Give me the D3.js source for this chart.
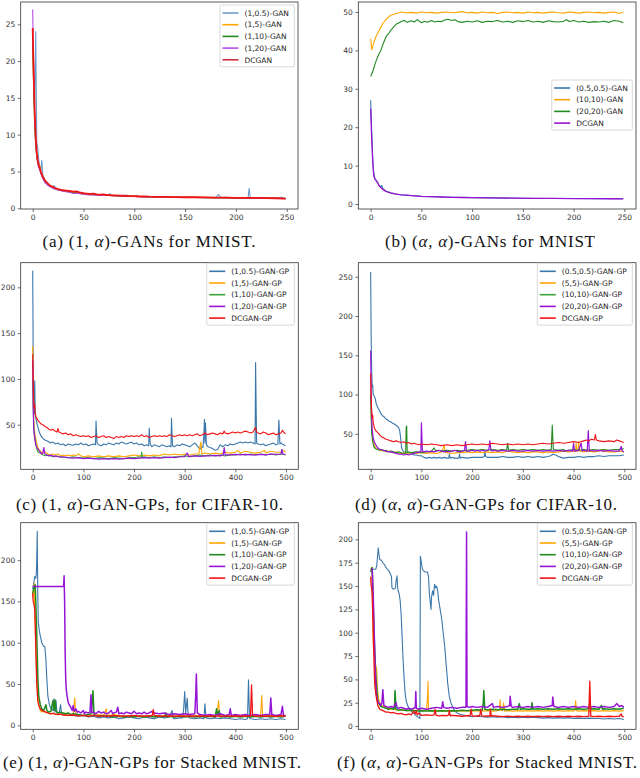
<!DOCTYPE html>
<html><head><meta charset="utf-8">
<script src="https://cdn.jsdelivr.net/npm/d3@7"></script>
<style>body{margin:0;background:#fff}svg{display:block}</style>
</head><body>
<svg id="chart" width="640" height="778"></svg>
<script>
// ---------------- DATA ----------------
const ticksX250 = [0, 50, 100, 150, 200, 250];
const ticksX500 = [0, 100, 200, 300, 400, 500];
const aTicksY = [0, 5, 10, 15, 20, 25];
const bTicksY = [0, 10, 20, 30, 40, 50];
const cTicksY = [50, 100, 150, 200];
const dTicksY = [50, 100, 150, 200, 250];
const eTicksY = [0, 50, 100, 150, 200];
const fTicksY = [0, 25, 50, 75, 100, 125, 150, 175, 200];

const aLabels = ["(1,0.5)-GAN", "(1,5)-GAN", "(1,10)-GAN", "(1,20)-GAN", "DCGAN"];
const bLabels = ["(0.5,0.5)-GAN", "(10,10)-GAN", "(20,20)-GAN", "DCGAN"];
const cLabels = ["(1,0.5)-GAN-GP", "(1,5)-GAN-GP", "(1,10)-GAN-GP", "(1,20)-GAN-GP", "DCGAN-GP"];
const dLabels = ["(0.5,0.5)-GAN-GP", "(5,5)-GAN-GP", "(10,10)-GAN-GP", "(20,20)-GAN-GP", "DCGAN-GP"];
const eLabels = cLabels;
const fLabels = dLabels;

// (a) (1,alpha)-GANs MNIST
const aBlue = [[0,23],[1,19],[2,14],[3,24],[4,9],[5,8.2],[6,6.5],[7,5.6],[8,5.2],[9,6.5],[10,4.5],[12,3.8],[14,3.4],[16,3.1],[18,3.0],[20,2.95],[21,3.1],[23,2.7],[25,2.6],[30,2.45],[35,2.3],[40,2.2],[45,2.1],[50,2.0],[55,1.95],[60,1.9],[65,1.85],[70,1.8],[75,1.8],[76,2.0],[77,1.8],[80,1.75],[85,1.7],[90,1.7],[92,1.8],[95,1.65],[100,1.62],[102,1.75],[105,1.6],[110,1.58],[120,1.55],[130,1.52],[140,1.5],[150,1.5],[160,1.48],[170,1.45],[180,1.45],[183,1.9],[185,1.45],[190,1.5],[200,1.42],[210,1.4],[212,1.45],[213,2.7],[214,1.5],[220,1.4],[230,1.38],[240,1.35],[245,1.5],[249,1.3]];
const aOrange = [[0,22],[1,17],[2,12],[3,9],[4,7.5],[5,6.3],[6,6.0],[7,5.8],[8,5.0],[10,4.2],[12,3.7],[15,3.3],[20,2.8],[25,2.55],[30,2.4],[35,2.3],[40,2.15],[45,2.05],[50,1.95],[60,1.85],[70,1.78],[80,1.72],[90,1.68],[100,1.62],[120,1.56],[140,1.52],[160,1.48],[180,1.45],[200,1.42],[220,1.4],[240,1.36],[249,1.33]];
const aGreen = [[0,22.5],[1,16],[2,11],[3,8.5],[4,7],[5,6.2],[6,5.7],[8,4.8],[10,4.1],[12,3.6],[15,3.2],[20,2.75],[25,2.5],[30,2.35],[40,2.1],[50,1.95],[60,1.85],[70,1.76],[80,1.7],[100,1.6],[120,1.55],[140,1.5],[160,1.47],[180,1.44],[200,1.41],[220,1.38],[240,1.35],[249,1.32]];
const aPurple = [[0,27],[1,19],[2,13],[3,9],[4,7],[5,6],[6,5.5],[7,5.2],[8,4.7],[10,4.0],[12,3.5],[15,3.1],[20,2.7],[25,2.5],[30,2.3],[35,2.2],[40,2.0],[45,2.0],[50,1.92],[55,1.8],[60,1.82],[70,1.75],[80,1.7],[90,1.65],[100,1.6],[120,1.54],[140,1.5],[160,1.46],[180,1.43],[200,1.4],[220,1.38],[240,1.35],[249,1.3]];
const aRed = [[0,24.5],[1,18],[2,13],[3,9.5],[4,7.5],[5,6.5],[6,5.8],[7,5.5],[8,5.0],[9,4.6],[10,4.3],[12,3.8],[14,3.5],[16,3.2],[18,3.0],[20,2.9],[22,2.75],[25,2.6],[28,2.5],[30,2.45],[33,2.4],[36,2.35],[40,2.25],[43,2.3],[46,2.15],[50,2.05],[53,2.0],[56,1.95],[60,1.98],[63,1.9],[66,1.85],[70,1.88],[73,1.8],[76,1.78],[80,1.75],[85,1.72],[90,1.7],[95,1.66],[100,1.64],[105,1.6],[110,1.62],[115,1.57],[120,1.56],[130,1.55],[140,1.52],[150,1.5],[160,1.5],[170,1.47],[180,1.45],[190,1.44],[200,1.42],[210,1.4],[220,1.4],[230,1.38],[240,1.36],[249,1.3]];

// (b) (alpha,alpha)-GANs MNIST
const bBlue = [[0,27],[1,19],[2,12],[3,8],[4,6.8],[5,6.3],[6,6],[8,5],[10,4.5],[11,4.8],[12,4],[15,3.4],[20,2.9],[25,2.6],[30,2.4],[40,2.2],[50,2.0],[60,1.9],[80,1.75],[100,1.65],[120,1.6],[150,1.5],[180,1.45],[200,1.42],[220,1.38],[249,1.35]];
const bOrange = [[0,43],[1,40.2],[2,41],[3,42],[5,43.5],[8,45],[10,46],[12,47],[15,48],[18,48.8],[20,49.2],[22,49.3],[25,49.6],[28,49.8],[30,50],[35,49.8],[40,49.9],[45,49.7],[50,50],[55,49.8],[60,49.9],[65,49.7],[70,49.9],[75,50],[80,49.8],[85,49.9],[90,50.1],[95,49.8],[100,49.9],[105,49.7],[110,50],[115,49.8],[120,49.9],[125,49.6],[130,49.9],[135,50],[140,49.8],[145,49.9],[150,49.7],[155,50],[160,49.8],[165,49.9],[170,49.7],[175,49.9],[180,50],[185,49.8],[190,49.7],[195,50],[200,49.9],[205,49.7],[210,49.9],[215,50],[220,49.8],[225,49.9],[230,49.7],[235,49.9],[240,50],[245,49.6],[249,50]];
const bGreen = [[0,33.2],[2,34.5],[5,37],[8,39],[10,40],[12,41.5],[15,43.5],[18,44.5],[20,45.3],[23,46.2],[25,46.8],[28,47.2],[30,47.5],[33,47.8],[36,47.3],[40,47.7],[43,47.4],[46,48],[50,47.2],[53,47.6],[56,47.3],[60,47.8],[63,47.4],[66,47.6],[70,47.5],[73,47.9],[76,48.1],[80,47.8],[83,48],[86,47.5],[90,47.3],[95,47.6],[100,47.4],[105,47.7],[110,47.3],[115,47.6],[120,47.5],[125,47.8],[130,47.4],[135,47.6],[140,47.3],[145,47.7],[150,47.5],[155,47.8],[160,47.4],[165,47.6],[170,47.3],[175,47.7],[180,47.5],[185,47.4],[190,47.6],[193,48],[196,47.5],[200,47.8],[205,47.4],[210,47.6],[215,47.3],[220,47.5],[225,47.4],[230,47.6],[235,47.3],[240,47.8],[245,47.6],[249,47.2]];
const bPurple = [[0,24.8],[1,17],[2,11],[3,7.5],[4,6.6],[5,6.2],[6,5.8],[7,5.5],[8,4.8],[10,4.3],[12,3.8],[15,3.3],[18,3.0],[20,2.85],[25,2.6],[30,2.4],[35,2.3],[40,2.2],[50,2.0],[60,1.9],[70,1.82],[80,1.75],[90,1.7],[100,1.65],[120,1.58],[140,1.52],[160,1.48],[180,1.45],[200,1.42],[220,1.4],[240,1.37],[249,1.35]];

// (c) (1,alpha)-GAN-GPs CIFAR-10
const cBlue = [[0,218],[1,120],[2,70],[3,62],[4,98],[5,60],[7,55],[10,48],[13,42],[16,38],[20,35],[25,33],[30,32],[35,30],[40,31],[45,29],[50,30],[55,28],[60,29],[65,27],[70,29],[75,28],[80,27.5],[85,29],[90,28],[95,30],[100,28],[105,29],[110,27],[115,28],[120,29],[124,28],[125,54],[127,30],[130,28],[135,27],[140,29],[145,28],[150,30],[155,29],[160,28],[165,30],[170,29],[175,31],[180,30],[185,29],[190,30],[195,31],[200,29],[205,30],[210,28],[215,29],[220,27],[225,28],[229,27],[230,46],[232,29],[235,26],[240,28],[245,27],[250,26],[255,28],[260,27],[265,26],[270,27],[273,26],[274,57],[276,27],[280,26],[285,28],[290,27],[295,29],[300,28],[305,27],[310,26],[315,28],[320,30],[325,27],[330,23],[333,26],[336,25],[338,40],[339,56],[340,30],[341,52],[343,28],[346,26],[350,25],[355,24],[360,22],[365,23],[370,28],[375,26],[380,28],[385,27],[390,29],[395,28],[400,29],[405,30],[410,31],[415,30],[420,31],[425,30],[430,31],[435,30],[439,29],[440,118],[442,30],[445,29],[450,28],[455,29],[460,27],[465,28],[470,29],[475,30],[480,28],[484,29],[486,55],[488,29],[490,30],[495,28],[499,27]];
const cOrange = [[0,136],[1,80],[2,55],[3,45],[5,38],[8,30],[10,25],[15,21],[20,19],[25,20],[30,18],[35,17],[40,18],[45,17],[50,18],[55,16],[60,17],[65,16],[70,17],[75,16],[80,17],[85,16],[90,18],[95,16],[100,15],[110,16],[120,15],[130,16],[140,15],[150,16],[160,15],[170,16],[180,15],[190,16],[200,17],[210,16],[220,17],[230,16],[240,17],[250,16],[260,18],[270,17],[280,18],[290,17],[300,18],[310,17],[320,18],[328,18],[330,26],[332,31],[334,18],[340,19],[350,18],[360,19],[370,18],[380,20],[390,19],[400,20],[405,22],[410,19],[420,21],[430,20],[440,19],[450,20],[458,22],[460,19],[470,21],[480,20],[490,20],[495,22],[499,20]];
const cGreen = [[0,100],[1,70],[2,50],[3,40],[5,32],[8,24],[10,20],[15,19],[20,17],[25,16],[30,17],[40,15],[50,15.5],[60,14.5],[70,14],[80,15],[90,14],[100,13.5],[110,14],[120,13],[130,14],[140,13.5],[150,13],[160,14],[170,13.5],[180,13],[190,14],[200,14],[210,15],[214,14],[215,20],[217,14],[220,15],[230,14],[240,15],[250,14],[260,15],[270,14],[280,15],[290,15],[300,16],[310,15],[320,16],[330,17],[340,16],[350,17],[360,16],[370,17],[380,16],[390,17],[400,17],[410,18],[420,17],[430,18],[440,17],[450,18],[460,17],[470,18],[480,17],[490,18],[499,17]];
const cPurple = [[0,120],[1,70],[2,45],[4,35],[6,28],[8,25],[10,24],[12,22],[15,20],[18,18],[20,19],[22,25],[24,18],[28,17],[32,16],[36,17],[40,15.5],[45,16],[50,15],[55,14.5],[60,15],[70,14],[80,13.5],[90,14],[100,13],[110,13.5],[120,13],[130,12.5],[140,13],[150,12.5],[160,13],[170,12.5],[180,13],[190,13.5],[200,13],[210,13.5],[220,14],[230,13.5],[240,14],[250,13.5],[260,14],[270,14.5],[280,14],[290,15],[300,15],[305,19],[308,15],[310,15.5],[320,16],[330,15.5],[340,16],[350,16],[360,16.5],[370,16],[376,17],[378,25],[380,17],[390,17],[400,17.5],[410,17],[420,17.5],[430,17],[440,17],[450,17.5],[460,17],[470,18],[480,17.5],[490,18],[492,23],[494,18],[499,17.5]];
const cRed = [[0,127],[1,95],[2,78],[3,68],[4,72],[5,62],[7,58],[10,55],[13,53],[16,51],[20,50],[24,48],[28,47],[32,45],[36,44],[40,45],[44,43],[48,42],[50,46],[52,42],[56,41],[60,40],[65,41],[70,39],[75,40],[80,38],[85,39],[90,38],[95,37],[100,38],[105,37],[110,38],[115,36],[120,37],[125,38],[130,36],[135,37],[140,38],[145,36],[150,37],[155,36],[160,35],[165,37],[170,36],[175,37],[180,36],[185,38],[190,37],[195,38],[200,37],[205,38],[210,37],[215,39],[220,37],[225,38],[230,36],[235,37],[240,38],[245,37],[250,38],[255,37],[260,38],[265,37],[270,39],[275,38],[280,37],[285,38],[290,39],[295,38],[300,39],[305,38],[310,39],[315,38],[320,39],[325,40],[330,38],[335,39],[340,41],[345,39],[350,40],[355,41],[360,40],[365,39],[370,41],[375,40],[378,43],[380,41],[385,40],[390,41],[395,42],[400,41],[405,42],[410,41],[415,42],[420,43],[425,42],[430,41],[435,42],[440,47],[442,42],[445,41],[450,40],[455,42],[460,41],[465,39],[470,40],[475,41],[480,39],[485,40],[490,41],[493,44],[495,42],[499,40]];

// (d) (alpha,alpha)-GAN-GPs CIFAR-10
const dBlue = [[0,256],[1,170],[2,130],[3,110],[4,112],[5,100],[7,98],[9,95],[11,88],[13,85],[15,82],[17,80],[20,76],[23,73],[26,72],[30,69],[33,68],[36,66],[40,65],[44,63],[48,62],[52,60],[55,58],[57,55],[59,45],[61,32],[64,28],[68,26],[72,25],[76,24],[80,25],[85,23],[90,23],[95,22],[100,22],[105,20],[110,19],[115,20],[120,19],[125,20],[130,19],[135,20],[140,19],[145,20],[150,19],[154,19],[155,24],[157,19],[160,20],[165,19],[170,19],[174,19],[175,24],[177,19],[180,20],[190,19],[200,20],[210,20],[220,20],[224,21],[225,27],[227,21],[230,20],[240,20],[250,20],[260,21],[270,20],[280,20],[290,21],[300,20],[310,21],[320,20],[330,21],[340,20],[350,21],[355,22],[360,24],[365,23],[370,21],[375,20],[380,19],[390,20],[400,20],[410,21],[420,20],[430,21],[440,21],[450,22],[460,21],[470,22],[480,22],[490,22],[499,23]];
const dOrange = [[0,120],[1,80],[2,60],[4,45],[6,38],[8,34],[10,32],[14,30],[18,29],[22,28],[26,29],[30,27],[35,28],[40,27],[45,26],[50,27],[55,26],[60,25],[65,26],[70,25],[80,26],[90,25],[100,26],[110,25],[120,26],[130,25],[140,27],[145,35],[147,26],[150,26],[160,25],[170,26],[180,26],[190,27],[200,26],[210,27],[220,26],[230,27],[240,26],[250,27],[260,26],[270,28],[280,27],[290,26],[300,27],[310,26],[320,27],[330,27],[340,26],[350,27],[360,26],[370,27],[380,28],[390,27],[400,28],[404,28],[405,38],[407,28],[409,28],[410,40],[412,28],[415,28],[420,27],[430,28],[440,27],[450,28],[455,30],[458,27],[460,28],[470,27],[480,27],[490,28],[499,27]];
const dGreen = [[0,100],[1,70],[2,50],[4,40],[6,34],[8,32],[10,31],[14,30],[18,29],[22,30],[26,28],[30,29],[35,27],[40,28],[45,27],[50,26],[55,27],[60,26],[65,25],[69,26],[70,58],[71,60],[72,26],[75,27],[80,26],[90,27],[100,26],[110,27],[120,28],[125,32],[128,28],[130,29],[140,28],[150,29],[160,28],[170,29],[180,28],[190,29],[200,30],[210,29],[220,30],[230,29],[240,30],[250,29],[260,30],[268,29],[270,38],[272,29],[280,30],[290,29],[300,30],[310,29],[320,30],[330,29],[340,30],[350,29],[356,30],[358,61],[360,30],[370,29],[380,30],[385,28],[390,29],[400,30],[410,29],[420,30],[430,29],[440,30],[450,29],[460,30],[470,29],[480,30],[490,30],[499,31]];
const dPurple = [[0,156],[1,100],[2,70],[3,55],[5,45],[7,40],[10,36],[13,33],[16,31],[20,30],[25,29],[30,28],[35,27],[40,27],[45,26],[50,25],[55,24],[60,24],[65,23],[70,24],[75,23],[80,24],[85,25],[90,26],[95,27],[99,27],[100,64],[102,28],[105,27],[110,28],[115,27],[120,28],[125,27],[130,28],[135,29],[140,28],[145,27],[150,28],[155,27],[160,28],[165,29],[170,28],[175,27],[180,28],[185,29],[187,40],[189,28],[195,28],[200,29],[205,28],[210,29],[215,28],[220,29],[225,28],[230,29],[233,30],[235,41],[237,29],[240,28],[245,29],[250,28],[260,29],[270,28],[280,29],[290,28],[300,28],[310,29],[320,28],[330,29],[340,28],[350,29],[360,28],[370,29],[380,28],[390,29],[398,28],[400,38],[402,28],[410,29],[415,38],[417,28],[420,29],[427,28],[429,54],[431,28],[435,29],[440,28],[450,29],[460,28],[470,29],[480,28],[490,28],[494,34],[496,28],[499,27]];
const dRed = [[0,127],[1,95],[2,78],[3,70],[4,74],[5,65],[7,58],[10,54],[13,52],[16,50],[20,47],[25,45],[30,43],[35,42],[40,41],[45,40],[50,41],[55,40],[60,39],[65,40],[70,38],[75,39],[80,37],[85,38],[90,37],[95,36],[100,37],[110,36],[120,37],[130,36],[140,35],[150,36],[160,35],[170,36],[180,35],[190,36],[200,37],[210,36],[220,37],[230,36],[240,38],[250,37],[260,36],[270,37],[280,36],[290,37],[300,36],[310,37],[320,36],[330,37],[340,38],[350,37],[360,38],[370,39],[380,38],[390,39],[400,40],[410,39],[420,41],[425,42],[430,41],[435,43],[441,42],[443,49],[445,42],[450,41],[460,40],[470,41],[480,40],[485,42],[490,41],[495,40],[499,39]];

// (e) (1,alpha)-GAN-GPs Stacked MNIST
const eBlue = [[0,165],[2,172],[4,180],[6,178],[7,182],[8,200],[9,235],[10,160],[11,125],[13,115],[15,108],[18,100],[21,96],[24,95],[26,80],[28,55],[30,35],[33,25],[36,20],[40,18],[42,32],[44,16],[46,30],[48,15],[52,14],[55,25],[57,14],[60,13],[65,14],[70,12],[75,13],[80,12],[90,11],[100,12],[110,10],[120,11],[130,9],[140,10],[150,9],[160,10],[170,8],[180,9],[190,10],[200,9],[210,8],[220,10],[230,9],[240,8],[250,10],[260,9],[270,10],[275,18],[277,9],[280,8],[290,9],[296,9],[298,20],[300,41],[302,15],[305,33],[307,10],[310,9],[320,8],[330,9],[338,8],[340,26],[342,9],[350,8],[360,9],[370,8],[380,9],[390,8],[400,7],[410,8],[420,7],[424,8],[426,55],[428,9],[430,8],[440,7],[450,8],[460,7],[470,8],[480,7],[490,8],[499,7]];
const eOrange = [[0,155],[2,168],[3,172],[4,140],[6,100],[8,60],[10,35],[12,25],[15,18],[18,16],[20,17],[25,16],[30,15],[35,14],[40,15],[45,13],[50,14],[55,13],[60,14],[65,13],[70,14],[75,13],[80,14],[83,33],[85,14],[90,12],[100,12],[110,13],[120,12],[130,13],[140,12],[145,20],[147,12],[150,12],[160,13],[170,12],[180,11],[190,12],[200,11],[210,12],[220,11],[230,12],[240,11],[250,12],[260,11],[270,12],[280,11],[290,12],[300,11],[310,12],[320,11],[330,12],[340,11],[350,12],[360,11],[365,20],[367,30],[369,12],[370,11],[380,12],[390,11],[400,12],[410,11],[420,12],[430,11],[440,12],[450,11],[452,36],[454,12],[460,11],[470,12],[480,11],[490,12],[499,12]];
const eGreen = [[0,160],[3,168],[5,170],[6,150],[8,110],[10,60],[12,35],[15,25],[18,20],[22,18],[26,25],[28,18],[32,16],[36,17],[40,30],[42,18],[44,31],[46,17],[50,15],[55,16],[60,15],[65,14],[70,15],[75,13],[80,14],[90,13],[100,12],[110,13],[115,14],[118,30],[119,42],[121,13],[125,12],[130,11],[140,12],[150,11],[160,10],[170,11],[180,10],[190,11],[200,10],[210,11],[220,10],[230,11],[240,10],[250,11],[260,10],[263,15],[265,10],[270,11],[280,10],[290,11],[300,10],[310,11],[320,10],[330,11],[340,10],[350,11],[360,10],[363,20],[365,12],[368,18],[370,10],[380,11],[390,10],[400,11],[410,10],[420,11],[430,10],[440,11],[450,10],[460,11],[470,10],[480,11],[490,10],[499,11]];
const ePurple = [[0,168],[61,168],[62,181],[63,150],[64,90],[65,60],[66,45],[68,35],[70,28],[72,25],[75,22],[78,18],[80,24],[82,17],[85,20],[88,16],[90,17],[95,15],[100,18],[102,14],[105,16],[110,15],[113,16],[115,37],[117,15],[120,16],[125,14],[130,17],[135,15],[140,16],[145,14],[150,15],[155,18],[158,14],[160,15],[165,16],[168,22],[170,14],[175,15],[180,14],[185,16],[190,15],[195,14],[200,17],[205,14],[210,15],[215,14],[220,16],[225,14],[230,15],[235,17],[238,14],[240,15],[250,14],[260,15],[270,13],[280,14],[290,13],[300,14],[310,13],[320,14],[322,40],[323,62],[325,15],[330,13],[340,12],[350,13],[360,12],[370,14],[380,12],[388,13],[390,20],[392,12],[400,13],[410,12],[420,13],[430,12],[440,13],[450,12],[460,13],[468,13],[470,33],[472,13],[480,12],[490,13],[493,23],[495,12],[499,12]];
const eRed = [[0,160],[1,150],[2,148],[3,145],[4,140],[5,120],[6,95],[7,70],[8,50],[10,30],[12,24],[15,20],[18,18],[22,17],[26,16],[30,15],[35,14],[40,14.5],[45,13.5],[50,13],[55,13.5],[60,12.5],[70,12],[80,12.5],[90,11.5],[100,12],[110,11],[120,12],[130,11],[140,11.5],[150,11],[160,12],[170,11],[180,11.5],[190,11],[200,12],[210,11],[220,11.5],[230,11],[236,12],[238,19],[240,12],[250,11],[260,11.5],[270,11],[280,11.5],[290,11],[300,11.5],[310,11],[320,11.5],[330,11],[340,11.5],[350,11],[360,11.5],[370,11],[380,11.5],[390,11],[400,11.5],[410,11],[420,11.5],[430,11],[431,30],[432,49],[434,12],[440,11],[450,11.5],[460,11],[470,11.5],[480,11],[490,11.5],[499,11]];

// (f) (alpha,alpha)-GAN-GPs Stacked MNIST
const fBlue = [[0,168],[5,168],[10,168],[12,172],[15,191],[16,185],[18,178],[21,178],[24,175],[27,173],[30,170],[33,168],[36,166],[39,163],[41,160],[42,148],[44,147],[47,147],[49,148],[50,155],[52,161],[53,150],[54,145],[56,142],[58,135],[60,120],[62,95],[64,70],[66,50],[68,35],[70,27],[73,22],[76,18],[80,16],[84,14],[88,12],[92,10],[95,9],[97,8],[98,182],[100,175],[102,168],[105,166],[108,165],[112,165],[114,160],[116,140],[118,130],[119,125],[120,138],[122,145],[124,140],[126,152],[128,148],[130,150],[132,145],[134,135],[137,125],[140,115],[143,100],[146,85],[149,65],[152,45],[155,32],[158,25],[162,20],[166,16],[170,14],[175,13],[180,12],[190,11],[200,10],[210,10.5],[220,10],[230,9.5],[240,10],[250,9.5],[260,10],[270,9],[280,9.5],[290,9],[300,9.5],[310,9],[320,9.5],[330,9],[340,8.5],[350,9],[360,8.5],[370,9],[380,8.5],[390,9],[400,8],[410,8.5],[420,8],[430,8.5],[440,8],[450,8],[460,7.5],[470,8],[480,7.5],[490,8],[499,7]];
const fOrange = [[0,168],[2,170],[3,160],[4,120],[5,90],[6,80],[8,75],[10,65],[12,60],[13,45],[15,30],[18,25],[22,22],[26,21],[30,20],[35,19],[40,18],[45,18.5],[50,17.5],[60,17],[70,17.5],[80,16.5],[90,17],[100,16.5],[110,17],[112,30],[113,48],[114,17],[120,16],[130,16.5],[140,16],[150,16.5],[160,16],[170,16.5],[180,16],[190,16.5],[200,16],[210,16.5],[220,16],[230,16.5],[240,16],[250,16.5],[254,17],[255,28],[257,17],[260,16.5],[262,25],[264,16],[270,16.5],[280,16],[290,16.5],[300,16],[310,16.5],[320,16],[330,16.5],[340,16],[350,16.5],[360,16],[370,16.5],[380,16],[390,16.5],[400,16],[403,17],[404,27],[406,16.5],[410,16],[420,16.5],[430,16],[440,16.5],[450,16],[460,16.5],[470,16],[480,16.5],[490,16],[499,16.5]];
const fGreen = [[0,165],[2,168],[3,170],[4,150],[6,110],[8,80],[10,55],[12,40],[14,28],[16,24],[20,21],[25,20],[30,19],[35,18],[40,19],[45,18],[47,19],[48,38],[50,18],[55,17],[60,17.5],[70,16.5],[80,17],[90,16],[100,16.5],[110,16],[120,16.5],[130,16],[140,16.5],[150,16],[160,16.5],[170,16],[180,17],[190,16.5],[200,17],[210,17.5],[220,17],[222,25],[223,38],[225,18],[230,17.5],[240,18],[250,17.5],[260,18],[270,17.5],[280,18],[290,18],[293,24],[295,18],[300,18.5],[310,18],[317,18],[318,25],[320,18],[330,18.5],[340,18],[350,18.5],[360,18],[370,18.5],[380,18],[390,18.5],[400,18],[410,18.5],[420,18],[430,18.5],[432,24],[434,18],[440,18.5],[450,18],[455,22],[457,18],[460,18.5],[470,18],[480,18.5],[490,18],[499,19]];
const fPurple = [[0,168],[3,168],[5,140],[7,100],[9,60],[11,35],[13,28],[15,25],[18,24],[20,22],[22,24],[24,39],[26,22],[30,21],[35,20],[40,21],[45,20],[50,25],[52,20],[55,19],[60,20],[65,19],[70,18],[75,19],[80,18],[85,19],[88,20],[89,37],[90,19],[95,18],[100,19],[110,18],[120,19],[130,20],[140,19],[142,26],[144,20],[150,19],[160,20],[170,19],[180,20],[188,20],[189,208],[190,21],[195,20],[200,21],[210,20],[220,21],[230,20],[240,24],[242,20],[250,21],[260,20],[270,21],[274,22],[275,32],[277,21],[280,20],[290,21],[300,20],[310,21],[320,20],[330,21],[340,20],[350,21],[358,22],[359,31],[361,21],[370,20],[380,21],[390,20],[400,21],[410,20],[420,21],[430,20],[440,21],[450,20],[460,21],[470,20],[480,21],[485,24],[487,23],[490,21],[495,22],[499,20]];
const fRed = [[0,160],[1,150],[2,148],[3,140],[4,120],[5,100],[6,80],[7,60],[8,45],[10,35],[12,28],[14,22],[16,20],[18,18],[22,17],[26,16],[30,15],[35,15],[40,14],[45,14.5],[50,13.5],[55,13],[60,13.5],[65,12.5],[70,12],[75,13],[80,12],[85,16],[88,13],[90,16],[92,12],[95,14],[100,11.5],[110,12],[120,11.5],[125,12],[127,18],[129,11.5],[135,11],[140,11.5],[150,11],[154,12],[155,17],[157,11],[160,11.5],[170,11],[180,10.5],[190,11],[196,11],[198,18],[200,11],[205,10.5],[210,11],[215,11],[217,18],[219,11],[225,10.5],[230,11],[235,10.5],[236,18],[238,10.5],[240,11],[250,10.5],[260,10],[270,10.5],[280,10],[290,10.5],[300,10],[310,10.5],[320,10],[330,10.5],[340,10],[350,10.5],[360,10],[370,10.5],[380,10],[390,10.5],[400,10],[410,10.5],[420,10],[430,10.5],[431,30],[432,48],[434,10.5],[440,10],[450,10.5],[460,10],[470,10.5],[480,10],[490,10.5],[494,13],[496,10],[499,10]];

// ---------------- STYLE / LAYOUT ----------------
const C = {blue:"#3b77aa", lblue:"#6d9fcc", orange:"#ffa500", green:"#218a21", lgreen:"#3aa63a", purple:"#9614d6", lpurple:"#b64ee3", red:"#f01414", dred:"#c8323c"};
const panels = [
  {box:[20.7,2,298,209], xd:[-11.8,261.1], yd:[-0.1,28.03], xt:ticksX250, yt:aTicksY,
   series:[[aBlue,C.lblue,1.1],[aOrange,C.orange,1.1],[aGreen,C.green,1.1],[aPurple,C.lpurple,1.1],[aRed,C.red,1.8]],
   labels:aLabels, legendColors:[C.lblue,C.orange,C.green,C.lpurple,C.dred], legend:[220,5,74.3],
   cap:["(a) (1, ", "α", ")-GANs for MNIST."], capX:149, capY:247, capW:213},
  {box:[358.3,2,636,209], xd:[-12.2,261.5], yd:[-1.3,52.6], xt:ticksX250, yt:bTicksY,
   series:[[bBlue,C.blue,1.1],[bOrange,C.orange,1.1],[bGreen,C.green,1.1],[bPurple,C.purple,1.3]],
   labels:bLabels, legendColors:[C.blue,C.orange,C.green,C.purple], legend:[551.7,80,80.6],
   cap:["(b) (", "α", ", ", "α", ")-GANs for MNIST"], capX:490, capY:247, capW:210},
  {box:[20.7,262.7,298.3,469.3], xd:[-23.7,524.3], yd:[1.3,226.9], xt:ticksX500, yt:cTicksY,
   series:[[cBlue,C.blue,1.1],[cOrange,C.orange,1.1],[cGreen,C.lgreen,1.1],[cPurple,C.purple,1.2],[cRed,C.red,1.1]],
   labels:cLabels, legendColors:[C.blue,C.orange,C.lgreen,C.purple,C.red], legend:[206.7,263.3,87.6],
   cap:["(c) (1, ", "α", ")-GAN-GPs, for CIFAR-10."], capX:149.5, capY:510, capW:267},
  {box:[358.3,262.7,636,469.3], xd:[-24.4,523.1], yd:[4.8,267.9], xt:ticksX500, yt:dTicksY,
   series:[[dBlue,C.blue,1.1],[dOrange,C.orange,1.1],[dGreen,C.green,1.1],[dPurple,C.purple,1.2],[dRed,C.red,1.1]],
   labels:dLabels, legendColors:[C.blue,C.orange,C.lgreen,C.purple,C.red], legend:[537.3,263.3,95],
   cap:["(d) (", "α", ", ", "α", ")-GAN-GPs for CIFAR-10."], capX:486, capY:510, capW:262},
  {box:[20.7,522.7,298.3,729.3], xd:[-23.7,524.3], yd:[-4.8,245.3], xt:ticksX500, yt:eTicksY,
   series:[[eBlue,C.blue,1.1],[eOrange,C.orange,1.1],[eGreen,C.green,1.5],[ePurple,C.purple,1.5],[eRed,C.red,1.3]],
   labels:eLabels, legendColors:[C.blue,C.orange,C.green,C.purple,C.red], legend:[206.7,523.3,87.6],
   cap:["(e) (1, ", "α", ")-GAN-GPs for Stacked MNIST."], capX:152, capY:768, capW:298},
  {box:[358.3,522.7,636,729.3], xd:[-24.4,523.1], yd:[-3.5,217.9], xt:ticksX500, yt:fTicksY,
   series:[[fBlue,C.blue,1.1],[fOrange,C.orange,1.1],[fGreen,C.green,1.5],[fPurple,C.purple,1.5],[fRed,C.red,1.3]],
   labels:fLabels, legendColors:[C.blue,C.orange,C.green,C.purple,C.red], legend:[537.3,523.3,95],
   cap:["(f) (", "α", ", ", "α", ")-GAN-GPs for Stacked MNIST."], capX:487, capY:768, capW:300}
];

// ---------------- DRAW ----------------
const svg = d3.select("#chart");
const tickFont = "DejaVu Sans, sans-serif";
panels.forEach((p, i) => {
  const [x0, y0, x1, y1] = p.box;
  const x = d3.scaleLinear().domain(p.xd).range([x0, x1]);
  const y = d3.scaleLinear().domain(p.yd).range([y1, y0]);
  const g = svg.append("g");
  const clipId = "clip" + i;
  svg.append("clipPath").attr("id", clipId).append("rect")
    .attr("x", x0).attr("y", y0).attr("width", x1 - x0).attr("height", y1 - y0);
  const line = d3.line().x(d => x(d[0])).y(d => y(d[1]));
  const lg = g.append("g").attr("clip-path", `url(#${clipId})`);
  p.series.forEach(([data, col, w]) => {
    lg.append("path").datum(data).attr("d", line)
      .attr("fill", "none").attr("stroke", col).attr("stroke-width", w)
      .attr("stroke-linejoin", "round");
  });
  const ax = g.append("g").attr("transform", `translate(0,${y1})`)
    .call(d3.axisBottom(x).tickValues(p.xt).tickSize(3).tickPadding(2.5).tickSizeOuter(0));
  const ay = g.append("g").attr("transform", `translate(${x0},0)`)
    .call(d3.axisLeft(y).tickValues(p.yt).tickSize(3).tickPadding(2.5).tickSizeOuter(0));
  [ax, ay].forEach(a => {
    a.select(".domain").remove();
    a.selectAll("line").attr("stroke", "#333").attr("stroke-width", 0.7);
    a.selectAll("text").attr("fill", "#333").style("font-family", tickFont).style("font-size", "7.5px");
  });
  g.append("rect").attr("x", x0).attr("y", y0).attr("width", x1 - x0).attr("height", y1 - y0)
    .attr("fill", "none").attr("stroke", "#333").attr("stroke-width", 0.8);
  const [lx, ly, lw] = p.legend;
  const n = p.labels.length, rowH = 11.7;
  const lh = 8 + (n - 1) * rowH + 7;
  g.append("rect").attr("x", lx).attr("y", ly).attr("width", lw).attr("height", lh)
    .attr("rx", 1.5).attr("fill", "#fff").attr("fill-opacity", 0.85)
    .attr("stroke", "#cfcfcf").attr("stroke-width", 0.8);
  p.labels.forEach((lab, k) => {
    const yy = ly + 8 + k * rowH;
    g.append("line").attr("x1", lx + 2.5).attr("x2", lx + 18.5).attr("y1", yy).attr("y2", yy)
      .attr("stroke", p.legendColors[k]).attr("stroke-width", 1.6);
    g.append("text").attr("x", lx + 24.5).attr("y", yy + 2.7).text(lab)
      .attr("fill", "#222").style("font-family", tickFont).style("font-size", "7.5px");
  });
  const t = svg.append("text").attr("x", p.capX).attr("y", p.capY).attr("text-anchor", "middle")
    .attr("textLength", p.capW).attr("lengthAdjust", "spacing")
    .style("font-family", "Liberation Serif, serif").style("font-size", "17px").attr("fill", "#111");
  p.cap.forEach(s => {
    const ts = t.append("tspan").text(s);
    if (s === "α") ts.style("font-style", "italic");
  });
});
</script>
</body></html>
